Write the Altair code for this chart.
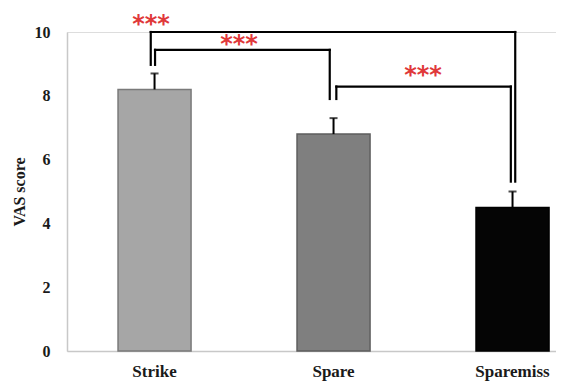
import altair as alt
import pandas as pd

# ---- data ----
categories = ["Strike", "Spare", "Sparemiss"]
means = [8.2, 6.8, 4.5]
errors = [0.5, 0.5, 0.5]
fills = ["#a6a6a6", "#7f7f7f", "#050505"]
edges = ["#7a7a7a", "#5e5e5e", "#000000"]

# significance brackets (Strike-Sparemiss, Strike-Spare, Spare-Sparemiss)
br_from = ["Strike", "Strike", "Spare"]
br_to = ["Sparemiss", "Spare", "Sparemiss"]
br_top = [10.0, 9.44, 8.29]
br_from_bottom = [8.97, 8.97, 7.9]
br_to_bottom = [5.31, 7.9, 5.31]
br_from_dx = [-3.8, 0.5, 2.8]
br_to_dx = [2.7, -3.8, -1.7]
star_text = ["***", "***", "***"]
star_y = [10.38, 9.75, 8.78]
star_dx = [-3.5, 84.5, 89.5]

df = pd.DataFrame({"cat": categories, "mean": means, "err": errors,
                   "fill": fills, "edge": edges})
df["top"] = df["mean"] + df["err"]

SERIF = "Liberation Serif"

xscale = alt.Scale(domain=categories, paddingInner=0.592, paddingOuter=0.162, align=0.88)
yscale = alt.Scale(domain=[0, 10], nice=False, zero=True)

xenc = alt.X("cat:N", scale=xscale, sort=categories,
             axis=alt.Axis(title=None, labelAngle=0, ticks=False, tickSize=0,
                           domainColor="#c8c8c8", domainWidth=1.5,
                           labelFont=SERIF, labelFontWeight="bold", labelFontSize=17,
                           labelColor="#1a1a1a", labelPadding=12))
yaxis = alt.Axis(title="VAS score", values=[0, 2, 4, 6, 8, 10], grid=False,
                 ticks=False, tickSize=0, domainColor="#c8c8c8", domainWidth=1.5,
                 labelFont=SERIF, labelFontWeight="bold", labelFontSize=16,
                 labelColor="#1a1a1a", labelPadding=17,
                 titleFont=SERIF, titleFontWeight="bold", titleFontSize=16,
                 titleColor="#1a1a1a", titlePadding=7)

base = alt.Chart(df)

bars = base.mark_bar(strokeWidth=1.5).encode(
    x=xenc,
    y=alt.Y("mean:Q", scale=yscale, axis=yaxis),
    fill=alt.Fill("fill:N", scale=None),
    stroke=alt.Stroke("edge:N", scale=None),
)

err_line = base.mark_rule(color="black", strokeWidth=2).encode(
    x=alt.X("cat:N", scale=xscale, sort=categories),
    y=alt.Y("mean:Q", scale=yscale),
    y2="top:Q",
)
err_cap = base.mark_tick(color="black", thickness=2, size=8, orient="horizontal").encode(
    x=alt.X("cat:N", scale=xscale, sort=categories),
    y=alt.Y("top:Q", scale=yscale),
)

layers = [bars, err_line, err_cap]

for i in range(len(br_from)):
    d = pd.DataFrame({"a": [br_from[i]], "b": [br_to[i]], "top": [br_top[i]],
                      "ab": [br_from_bottom[i]], "bb": [br_to_bottom[i]],
                      "txt": [star_text[i]], "sy": [star_y[i]]})
    c = alt.Chart(d)
    horiz = c.mark_rule(color="black", strokeWidth=2.2, strokeCap="square",
                        xOffset=br_from_dx[i], x2Offset=br_to_dx[i]).encode(
        x=alt.X("a:N", scale=xscale, sort=categories),
        x2="b:N",
        y=alt.Y("top:Q", scale=yscale),
    )
    leg_a = c.mark_rule(color="black", strokeWidth=2.2, strokeCap="square",
                        xOffset=br_from_dx[i]).encode(
        x=alt.X("a:N", scale=xscale, sort=categories),
        y=alt.Y("top:Q", scale=yscale),
        y2="ab:Q",
    )
    leg_b = c.mark_rule(color="black", strokeWidth=2.2, strokeCap="square",
                        xOffset=br_to_dx[i]).encode(
        x=alt.X("b:N", scale=xscale, sort=categories),
        y=alt.Y("top:Q", scale=yscale),
        y2="bb:Q",
    )
    stars = c.mark_text(color="#e0393a", font="DejaVu Sans", fontWeight="bold",
                        fontSize=24, baseline="middle", align="center",
                        xOffset=star_dx[i], yOffset=5).encode(
        x=alt.X("a:N", scale=xscale, sort=categories),
        y=alt.Y("sy:Q", scale=yscale),
        text="txt:N",
    )
    layers += [horiz, leg_a, leg_b, stars]

chart = alt.layer(*layers).properties(
    width=489, height=319,
    autosize=alt.AutoSizeParams(type="none"),
    padding={"left": 59, "top": 24, "right": 0, "bottom": 34},
).configure_view(stroke=None).configure(background="white")

chart.save("out.html", embed_options={"renderer": "svg", "actions": False})
